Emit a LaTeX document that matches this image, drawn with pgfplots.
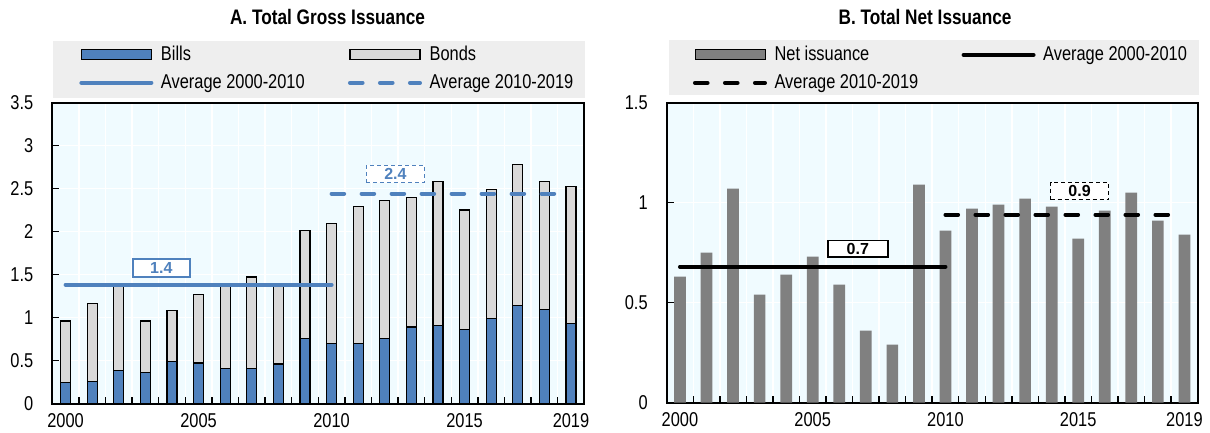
\documentclass[border=0pt]{standalone}
\usepackage{fontspec}
\setmainfont{Liberation Sans}[FakeStretch=0.82]
\newfontfamily\boxfont{Liberation Sans}
\usepackage{pgfplots}
\usepackage{pgfplotstable}
\pgfplotsset{compat=1.18}
\definecolor{billsblue}{RGB}{79,129,189}
\definecolor{bondgray}{RGB}{217,217,217}
\definecolor{netgray}{RGB}{128,128,128}
\definecolor{plotbg}{RGB}{240,251,255}
\definecolor{leggray}{RGB}{238,238,238}

\pgfplotstableread{
year bills total
2000 0.24 0.96
2001 0.26 1.16
2002 0.38 1.36
2003 0.36 0.96
2004 0.49 1.08
2005 0.47 1.27
2006 0.41 1.38
2007 0.41 1.47
2008 0.46 1.36
2009 0.76 2.01
2010 0.70 2.09
2011 0.70 2.29
2012 0.76 2.36
2013 0.89 2.40
2014 0.91 2.58
2015 0.86 2.25
2016 0.99 2.49
2017 1.14 2.78
2018 1.09 2.58
2019 0.93 2.52
}\grosstable

\pgfplotstableread{
year net
2000 0.63
2001 0.75
2002 1.07
2003 0.54
2004 0.64
2005 0.73
2006 0.59
2007 0.36
2008 0.29
2009 1.09
2010 0.86
2011 0.97
2012 0.99
2013 1.02
2014 0.98
2015 0.82
2016 0.96
2017 1.05
2018 0.91
2019 0.84
}\nettable

\tikzset{valbox/.style={fill=white, inner sep=0pt, minimum width=29pt, minimum height=8.7pt,
    font=\boxfont\bfseries\fontsize{8}{9}\selectfont}}

\pgfplotsset{
  barleg/.style={legend image code/.code={\draw[##1] (0pt,-2.5pt) rectangle (35pt,2.5pt);}},
  lineleg/.style={legend image code/.code={\draw[##1] (0pt,0pt) -- (35pt,0pt);}},
  panel/.style={
    scale only axis, anchor=south west,
    xmin=1999.5, xmax=2019.5, ymin=0,
    axis background/.style={fill=plotbg},
    tick pos=left, tick align=inside,
    xtick={2000.5,2001.5,...,2018.5}, xticklabels={},
    extra x ticks={2000,2005,2010,2015,2019},
    extra x tick labels={2000,2005,2010,2015,2019},
    extra x tick style={major tick length=0pt, grid=none},
    xmajorgrids, ymajorgrids,
    grid style={white, line width=0.7pt},
    major tick length=3.5pt,
    tick style={black, line width=0.7pt},
    axis line style={black, line width=1pt},
    tick label style={font=\fontsize{10}{12}\selectfont},
    yticklabel style={xshift=-6pt},
    xticklabel style={yshift=-1.3pt},
    legend cell align=left,
    legend style={draw=none, fill=none, inner sep=0pt, outer sep=0pt,
      anchor=north west, legend columns=2,
      font=\fontsize{10}{12}\selectfont, row sep=4.2pt,
      nodes={inner sep=0pt, text height=7.8pt, text depth=2pt},
      /tikz/every odd column/.append style={column sep=3.8pt},
      /tikz/every even column/.append style={column sep=0pt}},
  },
}

\begin{document}
\begin{tikzpicture}
\path[use as bounding box] (0,0) rectangle (605pt,-216.5pt);
\fill[leggray] (26.5pt,-20.5pt) rectangle (292.5pt,-48.85pt);
\fill[leggray] (334.5pt,-20pt) rectangle (599.5pt,-47.5pt);
\node[anchor=base, font=\bfseries\fontsize{10.5}{12}\selectfont] at (163.75pt,-12.15pt) {A. Total Gross Issuance};
\node[anchor=base, font=\bfseries\fontsize{10.5}{12}\selectfont] at (462.5pt,-12.15pt) {B. Total Net Issuance};

\begin{axis}[panel, at={(26.15pt,-201.75pt)}, width=266pt, height=150.5pt,
  ymax=3.5, ytick={0,0.5,1,1.5,2,2.5,3,3.5}, yticklabels={0,0.5,1,1.5,2,2.5,3,3.5},
  legend style={at={(0.0509,1.191)}}]
\addlegendimage{barleg, fill=billsblue, draw=black, line width=0.6pt}
\addlegendentry{\makebox[93.5pt][l]{Bills}}
\addlegendimage{barleg, fill=bondgray, draw=black, line width=0.6pt}
\addlegendentry{\makebox[93.5pt][l]{Bonds}}
\addplot[ybar, bar width=0.38, fill=bondgray, draw=black, line width=0.6pt, forget plot]
  table[x=year, y=total] {\grosstable};
\addplot[ybar, bar width=0.38, fill=billsblue, draw=black, line width=0.6pt, forget plot]
  table[x=year, y=bills] {\grosstable};
\addplot[lineleg, billsblue, line width=2pt, line cap=round]
  coordinates {(2000,1.38) (2010,1.38)};
\addlegendentry{\makebox[93.5pt][l]{Average 2000-2010}}
\addplot[lineleg, billsblue, line width=2pt, line cap=round, dash pattern=on 6.3pt off 8.7pt]
  coordinates {(2010,2.44) (2019,2.44)};
\addlegendentry{\makebox[93.5pt][l]{Average 2010-2019}}
\node[valbox, draw=billsblue, line width=0.7pt, text=billsblue, minimum width=28.5pt, minimum height=9pt]
  at (axis cs:2003.6,1.575) {1.4};
\node[valbox, draw=billsblue, line width=0.5pt, dash pattern=on 2pt off 1.5pt, text=billsblue]
  at (axis cs:2012.4,2.67) {2.4};
\end{axis}

\begin{axis}[panel, at={(333.35pt,-201.35pt)}, width=265.5pt, height=150pt,
  ymax=1.5, ytick={0,0.5,1,1.5}, yticklabels={0,0.5,1,1.5},
  legend style={at={(0.0495,1.192)}}]
\addplot[ybar, bar width=0.44, fill=netgray, draw=none, barleg]
  table[x=year, y=net] {\nettable};
\addlegendentry{\makebox[93.5pt][l]{Net issuance}}
\addplot[lineleg, black, line width=2pt, line cap=round]
  coordinates {(2000,0.68) (2010,0.68)};
\addlegendentry{\makebox[93.5pt][l]{Average 2000-2010}}
\addplot[lineleg, black, line width=2pt, line cap=round, dash pattern=on 6.3pt off 8.7pt]
  coordinates {(2010,0.94) (2019,0.94)};
\addlegendentry{\makebox[93.5pt][l]{Average 2010-2019}}
\node[valbox, draw=black, line width=0.7pt, minimum width=30pt, minimum height=8.3pt]
  at (axis cs:2006.7,0.771) {0.7};
\node[valbox, draw=black, line width=0.5pt, dash pattern=on 2pt off 1.5pt]
  at (axis cs:2015.05,1.059) {0.9};
\end{axis}
\end{tikzpicture}
\end{document}
